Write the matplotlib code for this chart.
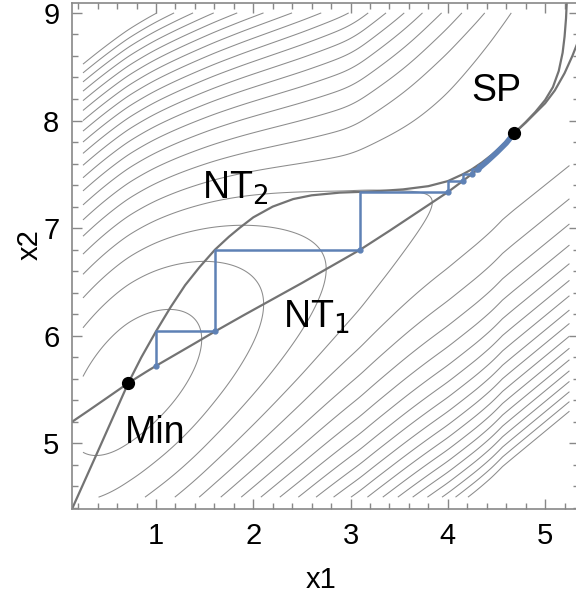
import numpy as np
import matplotlib.pyplot as plt

plt.rcParams['font.family'] = ['Liberation Sans', 'DejaVu Sans']

# Newton trajectories (they touch at Min and at SP)
nt1_x = [0.137, 0.30, 0.50, 0.715, 0.90, 1.00, 1.20, 1.40, 1.607, 1.90, 2.20, 2.50, 2.80,
         3.10, 3.40, 3.70, 4.00, 4.152, 4.30, 4.45, 4.60, 4.68,
         4.80, 4.90, 5.00, 5.08, 5.14, 5.18, 5.20, 5.215, 5.222]
nt1_y = [5.20, 5.30, 5.425, 5.56, 5.665, 5.72, 5.825, 5.93, 6.04, 6.19, 6.34, 6.49, 6.645,
         6.80, 6.975, 7.155, 7.335, 7.437, 7.54, 7.655, 7.79, 7.88,
         7.985, 8.08, 8.19, 8.31, 8.46, 8.63, 8.78, 8.95, 9.09]
nt2_x = [0.137, 0.40, 0.715, 0.85, 1.00, 1.15, 1.30, 1.45, 1.607, 1.75, 1.865, 2.00, 2.20,
         2.41, 2.60, 2.89, 3.10, 3.30, 3.54, 3.80, 4.00, 4.152, 4.244, 4.35, 4.45, 4.55, 4.68,
         4.80, 4.90, 5.00, 5.10, 5.20, 5.28, 5.35]
nt2_y = [4.39, 4.92, 5.56, 5.80, 6.04, 6.265, 6.47, 6.64, 6.80, 6.92, 7.006, 7.10, 7.20,
         7.27, 7.305, 7.33, 7.337, 7.345, 7.36, 7.39, 7.437, 7.50, 7.545, 7.61, 7.68, 7.76, 7.88,
         7.98, 8.07, 8.16, 8.28, 8.44, 8.60, 8.76]

# lower flank of the valley beyond x1 = 4 (guide for the far contours)
flank_x = [0.137, 0.715, 1.607, 3.10, 4.00, 4.68, 5.35]
flank_y = [5.20, 5.56, 6.04, 6.80, 7.335, 7.845, 8.35]
# how far the upper contours above SP lean towards larger x2
lean_x = [0.25, 3.0, 3.6, 4.2, 4.7, 5.25]
lean_v = [0.0, 0.0, 0.15, 0.35, 0.50, 0.50]

# zigzag search path
path_x = [1.00, 1.00, 1.607, 1.607, 3.10, 3.10, 4.004, 4.004, 4.152, 4.152, 4.244, 4.244, 4.31, 4.31, 4.36]
path_y = [5.72, 6.04, 6.04, 6.80, 6.80, 7.335, 7.335, 7.437, 7.437, 7.50, 7.50, 7.545, 7.545, 7.585, 7.585]
dots_x = [1.00, 1.607, 3.10, 4.004, 4.152, 4.244, 4.31]
dots_y = [5.72, 6.04, 6.80, 7.335, 7.437, 7.50, 7.545]
tail_x = [4.30, 4.40, 4.50, 4.60, 4.68]
tail_y = [7.54, 7.617, 7.70, 7.79, 7.88]

min_pt = (0.715, 5.56)
sp_pt = (4.68, 7.88)

# model surface built from the NTs: quadratic valley walls + profile g along the valley
xs = np.linspace(0.25, 5.25, 1001)
ys = np.linspace(4.5, 9.0, 901)

def smooth(y, s=8):
    k = np.exp(-0.5 * (np.arange(-3 * s, 3 * s + 1) / s) ** 2)
    k /= k.sum()
    yp = np.pad(y, 3 * s, mode='reflect', reflect_type='odd')
    return np.convolve(yp, k, mode='valid')

fu = smooth(np.interp(xs, nt1_x, nt1_y))
fl = smooth(np.interp(xs, flank_x, flank_y), s=20)
fl = np.where(xs < 3.6, fu, np.minimum(fl, fu))
f2 = smooth(np.interp(xs, nt2_x, nt2_y))
gp = 2 * (f2 - fu) * np.gradient(fu, xs)
gp = np.where(xs > sp_pt[0], -0.04, gp)
g = np.concatenate([[0], np.cumsum(0.5 * (gp[1:] + gp[:-1]) * np.diff(xs))])
g -= np.interp(min_pt[0], xs, g)
lean = smooth(np.interp(xs, lean_x, lean_v), s=20)

X, Y = np.meshgrid(xs, ys)
d_up = np.maximum(Y - fu[None, :], 0)
t = np.clip((d_up - 0.3) / 0.9, 0, 1)
d_up = d_up - lean[None, :] * (3 * t ** 2 - 2 * t ** 3)
d_lo = np.maximum(fl[None, :] - Y, 0)
V = d_up ** 2 + d_lo ** 2 + g[None, :]

l1 = np.interp(1.47, xs, g)
l4 = np.interp(3.84, xs, g)
step = (l4 - l1) / 3
vcap = V[np.searchsorted(ys, 8.58), 0]
levels = l1 + step * np.arange(0, 60)
levels = levels[levels < vcap]

fig = plt.figure(figsize=(5.76, 5.97), dpi=100)
ax = fig.add_axes([0.125, 0.1474, 0.8805, 0.8472])

ax.contour(X, Y, V, levels=levels, colors='#8c8c8c', linewidths=0.75)
ax.plot(nt1_x, nt1_y, color='#737373', lw=1.6)
ax.plot(nt2_x, nt2_y, color='#737373', lw=1.6)

blue = '#5e81b5'
ax.plot(path_x, path_y, color=blue, lw=1.8)
ax.plot(tail_x, tail_y, color=blue, lw=4, solid_capstyle='round')
ax.plot(dots_x, dots_y, 'o', color=blue, ms=3.5)

ax.plot(*min_pt, 'o', color='black', ms=8.5, zorder=5)
ax.plot(*sp_pt, 'o', color='black', ms=8.5, zorder=5)

tfs = 27
ax.text(1.473, 7.273, r'NT$_2$', fontsize=tfs, ha='left', va='baseline')
ax.text(2.31, 6.077, r'NT$_1$', fontsize=tfs, ha='left', va='baseline')
ax.text(4.245, 8.18, 'SP', fontsize=tfs, ha='left', va='baseline')
ax.text(0.681, 5.003, 'Min', fontsize=tfs, ha='left', va='baseline')

ax.set_xlim(0.137, 5.35)
ax.set_ylim(4.39, 9.09)
ax.set_xticks([1, 2, 3, 4, 5])
ax.set_yticks([5, 6, 7, 8, 9])
ax.set_xticks(np.arange(0.2, 5.4, 0.2), minor=True)
ax.set_yticks(np.arange(4.4, 9.1, 0.2), minor=True)
ax.tick_params(which='both', direction='in', top=True, right=True, color='#888888', width=1)
ax.tick_params(which='major', length=7, labelsize=21, pad=9)
ax.tick_params(which='minor', length=4)
for s in ax.spines.values():
    s.set_color('#888888')
    s.set_linewidth(1.2)

ax.set_xlabel('x1', fontsize=21)
ax.set_ylabel('x2', fontsize=21)
ax.xaxis.set_label_coords(0.491, -0.140)
ax.yaxis.set_label_coords(-0.083, 0.522)
ax.xaxis.label.set_va('center')
ax.yaxis.label.set_va('center')

fig.savefig('out.png', dpi=100)
